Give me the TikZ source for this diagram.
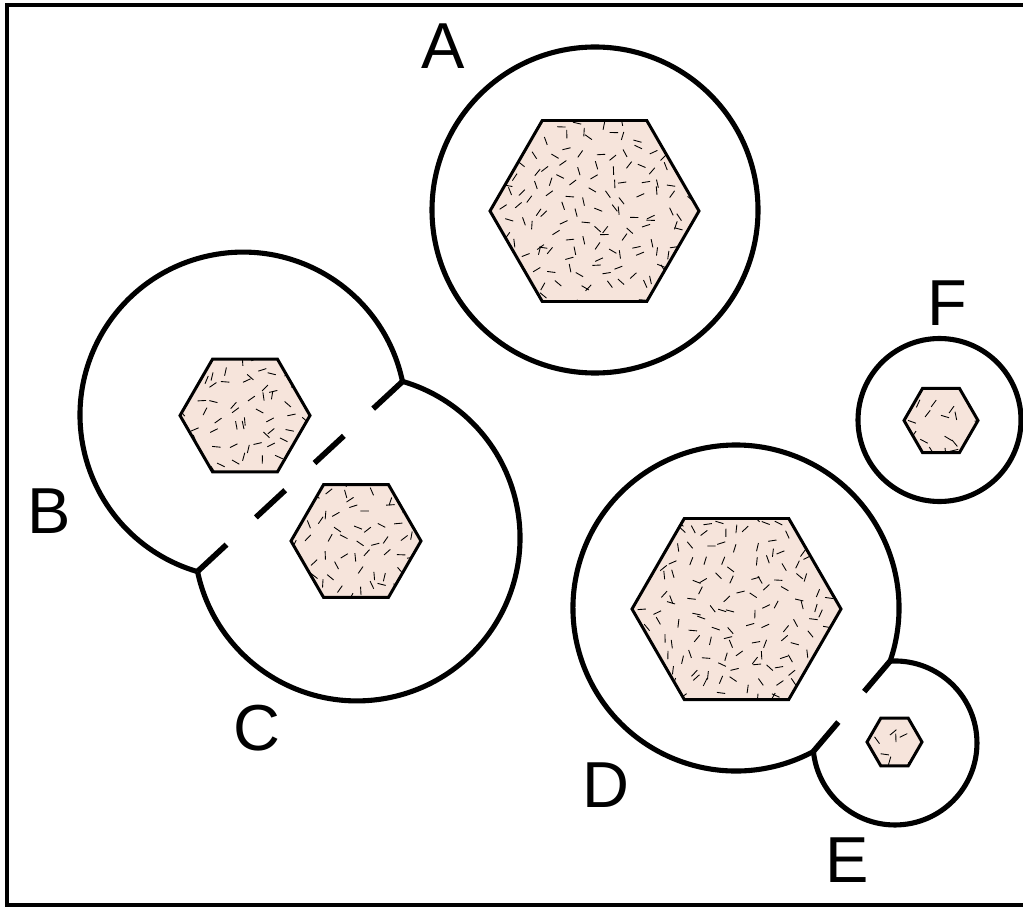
\documentclass[tikz,border=0pt]{standalone}
\usepackage{fontspec}
\setmainfont{Liberation Sans}
\usepackage{xcolor}
\definecolor{nucpink}{RGB}{246,228,219}
\usetikzlibrary{calc}

\newcommand{\hexpath}[1]{(0:#1) -- (60:#1) -- (120:#1) -- (180:#1) -- (240:#1) -- (300:#1) -- cycle}
\newcommand{\nucleus}[3]{%
  \begin{scope}[shift={(#1)}]
    \fill[nucpink] \hexpath{#2};
    \begin{scope}
      \clip \hexpath{#2};
      \pgfmathtruncatemacro{\nx}{#2/#3}
      \foreach \i in {-\nx,...,\nx}{
        \foreach \j in {-\nx,...,\nx}{
          \pgfmathsetmacro{\sx}{\i*#3+0.45*rand*#3}
          \pgfmathsetmacro{\sy}{\j*#3+0.45*rand*#3}
          \pgfmathsetmacro{\sa}{rnd*180}
          \draw[speck] (\sx,\sy) ++(\sa:-4.2) -- ++(\sa:8.4);
        }
      }
    \end{scope}
    \draw[nucline] \hexpath{#2};
  \end{scope}}

\begin{document}
\begin{tikzpicture}[
  x=0.02cm,y=0.02cm,
  frame/.style={line width=2pt},
  membrane/.style={line width=2.9pt},
  junction/.style={line width=3.2pt,dash pattern=on 0.8cm off 0.8cm},
  nucline/.style={line width=1.7pt,line join=miter},
  speck/.style={line width=0.5pt,black},
  lbl/.style={inner sep=0pt,font=\fontsize{37}{37}\selectfont}
]
\useasboundingbox (0,0) rectangle (1023,907);
\pgfmathsetseed{11}
\draw[frame] (1040,2) -- (7,2) -- (7,902) -- (1040,902);

\coordinate (cA) at (595,697);
\coordinate (cB) at (243,492);
\coordinate (cC) at (357,369);
\coordinate (cD) at (736,299);
\coordinate (cE) at (895,164);
\coordinate (cF) at (939.5,487);
\coordinate (jBCtop) at (402.5,525.5);
\coordinate (jBCbot) at (197.5,335.5);
\coordinate (jDEtop) at (890.1,245.9);
\coordinate (jDEbot) at (813.4,155.6);

\draw[membrane] (cA) circle[radius=163];
\draw[membrane] (cF) circle[radius=81.5];
\draw[membrane] (jBCtop) arc[start angle=11.9,end angle=253.8,radius=163];
\draw[membrane] (jBCbot) arc[start angle=191.9,end angle=433.8,radius=163];
\draw[membrane] (jDEtop) arc[start angle=-19,end angle=298.4,radius=163];
\draw[membrane] (jDEbot) arc[start angle=185.9,end angle=453.4,radius=82];
\draw[junction] (jBCtop) -- (jBCbot);
\draw[junction] (jDEtop) -- (jDEbot);

\nucleus{594.5,696}{104.5}{15}
\nucleus{245,491.5}{65}{15}
\nucleus{356,366}{65}{15}
\nucleus{736.5,298}{104.5}{15}
\nucleus{894.5,165}{27.5}{16}
\nucleus{941,486.5}{37}{17}

\node[lbl] (labA) at (443,861) {A};
\node[lbl] (labB) at (49,396) {B};
\node[lbl] (labC) at (257,179) {C};
\node[lbl] (labD) at (606,122) {D};
\node[lbl] (labE) at (847,47) {E};
\node[lbl] (labF) at (947,604) {F};
\end{tikzpicture}
\end{document}
